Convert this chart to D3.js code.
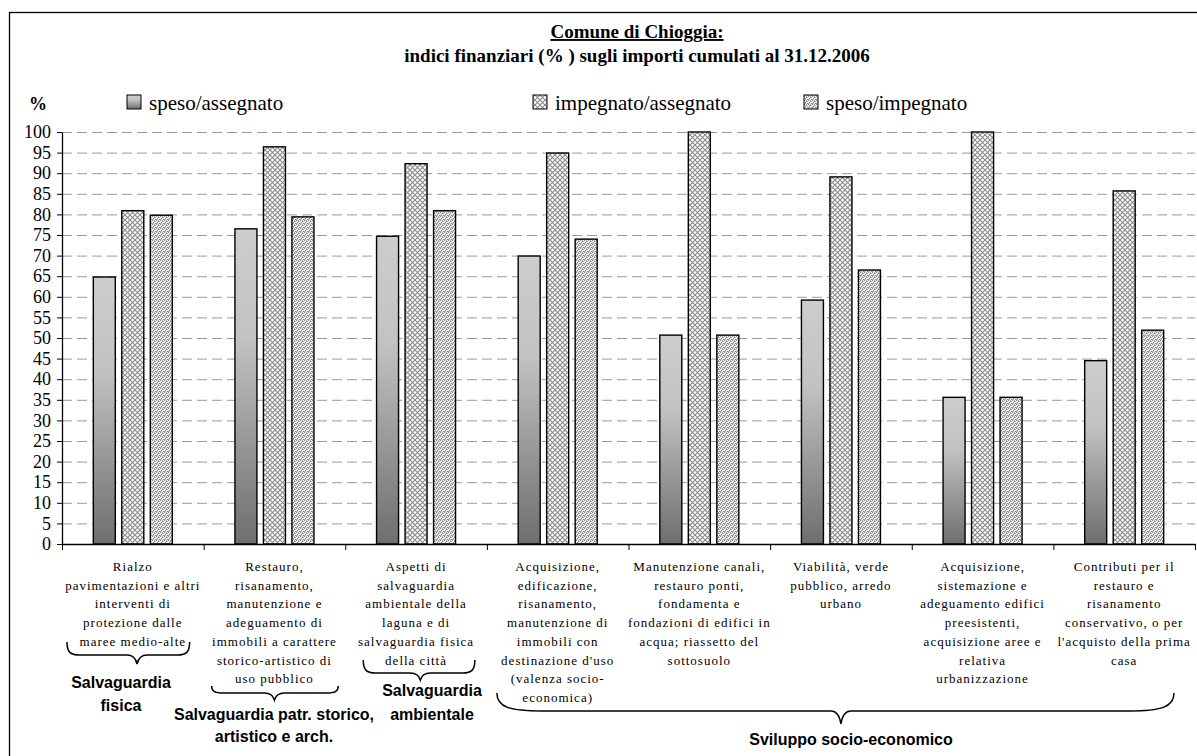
<!DOCTYPE html>
<html><head><meta charset="utf-8">
<script src="https://cdn.jsdelivr.net/npm/d3@7"></script>
<style>body{margin:0;background:#fff;} svg{display:block;}</style>
</head><body>
<svg id="c" width="1197" height="756"></svg>
<script>
// ---------- data ----------
const categories = [
  ["Rialzo", "pavimentazioni e altri", "interventi di", "protezione dalle", "maree medio-alte"],
  ["Restauro,", "risanamento,", "manutenzione e", "adeguamento di", "immobili a carattere", "storico-artistico di", "uso pubblico"],
  ["Aspetti di", "salvaguardia", "ambientale della", "laguna e di", "salvaguardia fisica", "della città"],
  ["Acquisizione,", "edificazione,", "risanamento,", "manutenzione di", "immobili con", "destinazione d'uso", "(valenza socio-", "economica)"],
  ["Manutenzione canali,", "restauro ponti,", "fondamenta e", "fondazioni di edifici in", "acqua; riassetto del", "sottosuolo"],
  ["Viabilità, verde", "pubblico, arredo", "urbano"],
  ["Acquisizione,", "sistemazione e", "adeguamento edifici", "preesistenti,", "acquisizione aree e", "relativa", "urbanizzazione"],
  ["Contributi per il", "restauro e", "risanamento", "conservativo, o per", "l'acquisto della prima", "casa"]
];
const seriesNames = ["speso/assegnato", "impegnato/assegnato", "speso/impegnato"];
const spesoAssegnato     = [64.8, 76.5, 74.7, 69.9, 50.7, 59.2, 35.6, 44.5];
const impegnatoAssegnato = [80.9, 96.4, 92.3, 94.9, 100.0, 89.1, 100.0, 85.7];
const spesoImpegnato     = [79.8, 79.4, 80.9, 74.0, 50.7, 66.5, 35.6, 51.9];
const yTicks = [0,5,10,15,20,25,30,35,40,45,50,55,60,65,70,75,80,85,90,95,100];
const titleLines = ["Comune di Chioggia:", "indici finanziari (% ) sugli importi cumulati al 31.12.2006"];
const groupLabels = [
  {lines: ["Salvaguardia", "fisica"], first: 0, last: 0},
  {lines: ["Salvaguardia patr. storico,", "artistico e arch."], first: 1, last: 1},
  {lines: ["Salvaguardia", "ambientale"], first: 2, last: 2},
  {lines: ["Sviluppo socio-economico"], first: 3, last: 7}
];

// ---------- layout ----------
const svg = d3.select("#c");
const L = 62, R = 1195, T = 132, B = 544;
const SERIF = "'Liberation Serif','Times New Roman',serif";
const SANS = "'Liberation Sans',Arial,sans-serif";

const idx = d3.range(categories.length);
const x = d3.scaleBand().domain(idx).range([L, R]).padding(0);
const xEdge = d3.scaleLinear().domain([0, categories.length]).range([L, R]);
const y = d3.scaleLinear().domain([0, 100]).range([B, T]);
const barW = 22, barStep = 28.5;

// defs
const defs = svg.append("defs");
const grad = defs.append("linearGradient").attr("id","gSpeso").attr("x1",0).attr("y1",0).attr("x2",0).attr("y2",1);
grad.append("stop").attr("offset","0").attr("stop-color","#cdcdcd");
grad.append("stop").attr("offset","0.35").attr("stop-color","#c2c2c2");
grad.append("stop").attr("offset","1").attr("stop-color","#6e6e6e");

const pc = defs.append("pattern").attr("id","pCross").attr("width",5).attr("height",5).attr("patternUnits","userSpaceOnUse");
pc.append("rect").attr("width",5).attr("height",5).attr("fill","#fff");
pc.append("path").attr("d","M-1,-1L6,6M6,-1L-1,6").attr("stroke","#8a8a8a").attr("stroke-width",1.1);

const pd = defs.append("pattern").attr("id","pDots").attr("width",4).attr("height",4).attr("patternUnits","userSpaceOnUse");
pd.append("rect").attr("width",4).attr("height",4).attr("fill","#eeeeee");
[[0,0,"#858585"],[2,1,"#858585"],[1,2,"#858585"],[3,3,"#858585"],[2,0,"#a8a8a8"],[0,3,"#a8a8a8"],[3,1,"#bcbcbc"],[1,3,"#bcbcbc"]]
  .forEach(d => pd.append("rect").attr("x",d[0]).attr("y",d[1]).attr("width",1).attr("height",1).attr("fill",d[2]));

const fills = ["url(#gSpeso)", "url(#pCross)", "url(#pDots)"];
const seriesValues = [spesoAssegnato, impegnatoAssegnato, spesoImpegnato];

// frame (extends beyond the picture on right/bottom)
svg.append("rect").attr("x",9.5).attr("y",12.5).attr("width",1300).attr("height",900)
  .attr("fill","none").attr("stroke","#000").attr("stroke-width",1.3);

// title
const title = svg.append("g").attr("font-family", SERIF).attr("font-weight","bold").attr("font-size",19).attr("text-anchor","middle");
title.append("text").attr("x",637).attr("y",38).attr("text-decoration","underline").text(titleLines[0]);
title.append("text").attr("x",637).attr("y",62).text(titleLines[1]);

// gridlines
svg.append("g").attr("transform",`translate(${L},0)`)
  .call(d3.axisLeft(y).tickValues(yTicks.filter(v=>v>0)).tickSize(-(R-L)).tickFormat(""))
  .call(g => g.select(".domain").remove())
  .call(g => g.selectAll("line").attr("stroke","#9a9a9a").attr("stroke-width",1).attr("stroke-dasharray","10,5"));

// bars
const gBars = svg.append("g");
seriesValues.forEach((vals, s) => {
  gBars.selectAll(null).data(vals).enter().append("rect")
    .attr("x", (d,i) => x(i) + x.bandwidth()/2 + (s-1)*barStep - barW/2)
    .attr("width", barW)
    .attr("y", d => y(d))
    .attr("height", d => y(0) - y(d))
    .attr("fill", fills[s])
    .attr("stroke","#000").attr("stroke-width",1.4);
});

// y axis
svg.append("g").attr("transform",`translate(${L},0)`)
  .call(d3.axisLeft(y).tickValues(yTicks).tickSize(5).tickPadding(6).tickSizeOuter(0))
  .call(g => g.select(".domain").attr("stroke","#000").attr("stroke-width",1.3))
  .call(g => g.selectAll("line").attr("stroke","#000"))
  .call(g => g.selectAll("text").attr("font-family",SERIF).attr("font-size",18).attr("fill","#000"));

// x axis with ticks at category boundaries
svg.append("g").attr("transform",`translate(0,${B})`)
  .call(d3.axisBottom(xEdge).tickValues(d3.range(0, categories.length+1)).tickSize(6).tickSizeOuter(0).tickFormat(""))
  .call(g => g.select(".domain").attr("stroke","#000").attr("stroke-width",1.3))
  .call(g => g.selectAll("line").attr("stroke","#000"));

// category labels
const lab = svg.append("g").attr("font-family",SERIF).attr("font-size",13).attr("letter-spacing","1px").attr("text-anchor","middle").attr("fill","#000");
categories.forEach((lines, i) => {
  const t = lab.append("text").attr("x", x(i) + x.bandwidth()/2).attr("y", 571);
  lines.forEach((ln, k) => t.append("tspan").attr("x", x(i) + x.bandwidth()/2).attr("y", 571 + k*18.7).text(ln));
});

// "%" label
svg.append("text").attr("x",38).attr("y",110).attr("text-anchor","middle").attr("font-family",SERIF)
  .attr("font-weight","bold").attr("font-size",18).text("%");

// legend
const legX = [127, 533, 804];
const leg = svg.append("g");
seriesNames.forEach((n, s) => {
  leg.append("rect").attr("x",legX[s]).attr("y",95).attr("width",14).attr("height",14)
    .attr("fill",fills[s]).attr("stroke","#000").attr("stroke-width",1);
  leg.append("text").attr("x",legX[s]+22).attr("y",110).attr("font-family",SERIF).attr("font-size",21).text(n);
});

// braces
function brace(x0, x1, xt, yEnd, yMid, yTip, r) {
  const p = d3.path();
  p.moveTo(x0, yEnd);
  p.bezierCurveTo(x0, yMid - (yMid-yEnd)*0.2, x0 + r*0.3, yMid, x0 + r, yMid);
  p.lineTo(xt - 10, yMid);
  p.quadraticCurveTo(xt - 2, yMid, xt, yTip);
  p.quadraticCurveTo(xt + 2, yMid, xt + 10, yMid);
  p.lineTo(x1 - r, yMid);
  p.bezierCurveTo(x1 - r*0.3, yMid, x1, yMid - (yMid-yEnd)*0.2, x1, yEnd);
  return p.toString();
}
const braceSpec = [
  {a: xEdge(0)+5,  b: xEdge(1)-14, t: xEdge(0.53), yE: 642, yM: 655, yT: 664, r: 12},
  {a: xEdge(1)+8,  b: xEdge(2)-7,  t: xEdge(1.5),  yE: 686, yM: 693, yT: 700, r: 12},
  {a: xEdge(2)+18, b: xEdge(3)-12, t: xEdge(2.53), yE: 660, yM: 673, yT: 680, r: 12},
  {a: xEdge(3)+10, b: xEdge(8)-21, t: xEdge(5.5),  yE: 693, yM: 711, yT: 724, r: 45}
];
const gBr = svg.append("g").attr("fill","none").attr("stroke","#000").attr("stroke-width",1.5);
braceSpec.forEach(b => gBr.append("path").attr("d", brace(b.a, b.b, b.t, b.yE, b.yM, b.yT, b.r)));

// group labels (bold sans)
const gl = svg.append("g").attr("font-family",SANS).attr("font-weight","bold").attr("font-size",16).attr("text-anchor","middle");
const glPos = [
  {x: 121, y: [688, 711]},
  {x: 274, y: [720, 742]},
  {x: 432, y: [696, 720]},
  {x: 851, y: [745]}
];
groupLabels.forEach((g, i) => {
  g.lines.forEach((ln, k) => gl.append("text").attr("x", glPos[i].x).attr("y", glPos[i].y[k]).text(ln));
});
</script>
</body></html>
